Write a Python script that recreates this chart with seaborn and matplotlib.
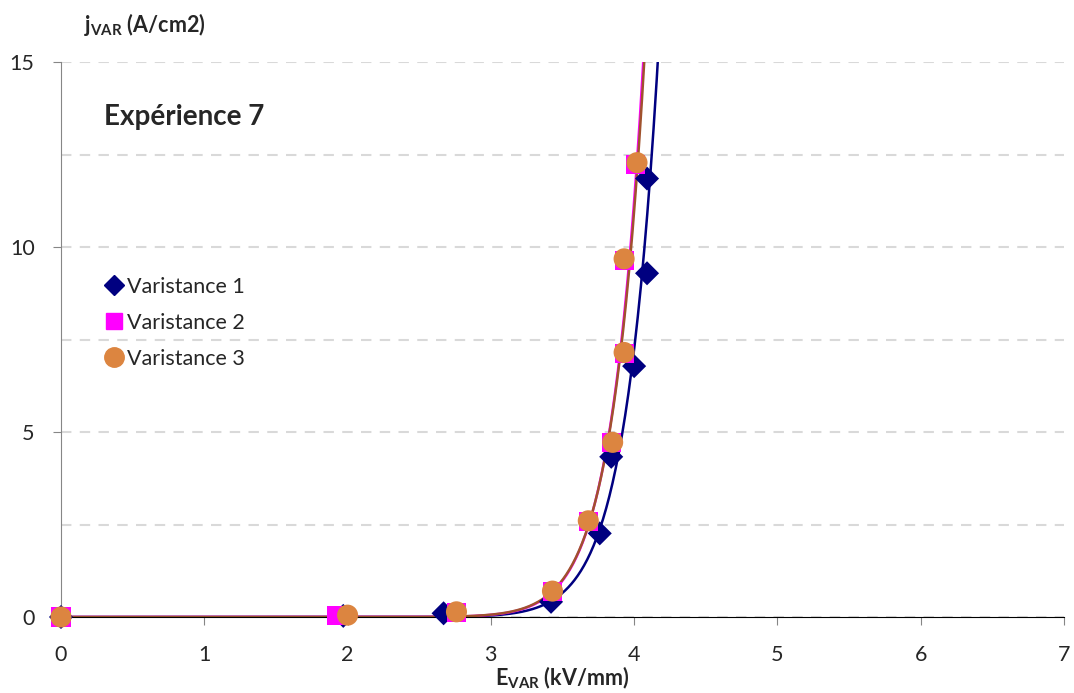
import numpy as np
import pandas as pd
import matplotlib
matplotlib.use('Agg')
import matplotlib.pyplot as plt
import seaborn as sns
from matplotlib.lines import Line2D

# --- Data ---
e_var1 = [0.0, 1.97, 2.67, 3.42, 3.76, 3.84, 4.00, 4.09, 4.09]
j_var1 = [0.0, 0.03, 0.10, 0.41, 2.26, 4.33, 6.78, 9.29, 11.85]

e_var2 = [0.0, 1.92, 2.76, 3.43, 3.68, 3.84, 3.93, 3.93, 4.01]
j_var2 = [0.0, 0.05, 0.13, 0.68, 2.58, 4.71, 7.13, 9.63, 12.24]

e_var3 = [0.0, 2.00, 2.76, 3.43, 3.68, 3.85, 3.93, 3.93, 4.02]
j_var3 = [0.0, 0.05, 0.14, 0.70, 2.60, 4.72, 7.15, 9.68, 12.28]

labels = ['Varistance 1', 'Varistance 2', 'Varistance 3']
marker_colors = ['#000080', '#FF00FF', '#DC8540']
line_colors = ['#000080', '#FF00FF', '#A0522D']
markers = ['D', 's', 'o']
sizes = [150, 190, 230]

sns.set_style('white')
plt.rcParams['font.family'] = ['Lato', 'DejaVu Sans']
plt.rcParams['mathtext.fontset'] = 'custom'
plt.rcParams['mathtext.rm'] = 'Lato'
plt.rcParams['mathtext.bf'] = 'Lato:bold'

fig = plt.figure(figsize=(10.74, 6.93), dpi=100)
ax = fig.add_axes([61 / 1074, 1 - 617 / 693, 1003 / 1074, 555 / 693])

series = [(e_var1, j_var1), (e_var2, j_var2), (e_var3, j_var3)]

# power-law trend curves, fitted on the conducting part of each series
e_grid = np.linspace(0, 4.4, 600)
for (e, j), col in zip(series, line_colors):
    e = np.array(e)
    j = np.array(j)
    keep = j > 0.3
    n, log_a = np.polyfit(np.log(e[keep]), np.log(j[keep]), 1)
    fit = pd.DataFrame({'E': e_grid, 'j': np.exp(log_a) * e_grid ** n})
    sns.lineplot(data=fit, x='E', y='j', color=col, lw=1.8, ax=ax, zorder=2)

for (e, j), col, m, s, lab in zip(series, marker_colors, markers, sizes, labels):
    df = pd.DataFrame({'E': e, 'j': j})
    sns.scatterplot(data=df, x='E', y='j', marker=m, s=s, color=col,
                    edgecolor='none', ax=ax, zorder=3, clip_on=False)

ax.set_xlim(0, 7)
ax.set_ylim(0, 15)
ax.set_xticks(range(0, 8))
ax.set_yticks([0, 5, 10, 15])
ax.set_yticks([2.5, 7.5, 12.5], minor=True)
ax.yaxis.grid(True, which='both', color='#D9D9D9', linestyle=(0, (5, 4)), lw=1.5)
ax.set_axisbelow(True)

for side in ['top', 'right']:
    ax.spines[side].set_visible(False)
ax.spines['left'].set_color('#868686')
ax.spines['bottom'].set_color('black')
ax.tick_params(axis='x', which='major', direction='out', length=6, color='#868686',
               labelsize=15.5, pad=14, bottom=True)
ax.tick_params(axis='y', which='major', direction='out', length=6, color='#868686',
               labelsize=15.5, pad=13, left=True)
ax.tick_params(axis='y', which='minor', length=0)

ax.set_xlabel(r'$\mathbf{E}_{\mathbf{VAR}}$ (kV/mm)', fontsize=15.5, fontweight='bold', labelpad=0)
ax.set_ylabel('')
fig.text(84 / 1074, 1 - 25 / 693, r'$\mathbf{j}_{\mathbf{VAR}}$ (A/cm2)', fontsize=15.5,
         fontweight='bold', va='center', ha='left')
ax.text(0.30, 13.5, 'Expérience 7', fontsize=20, fontweight='bold', va='center')

handles = [Line2D([], [], marker=m, color=c, linestyle='none', markersize=ms)
           for m, c, ms in zip(markers, marker_colors, [10, 12, 14])]
ax.legend(handles, labels, loc='upper left', bbox_to_anchor=(0.021, 0.648), frameon=False,
          fontsize=15.5, handletextpad=0.0, labelspacing=0.75, handlelength=1.2)

fig.savefig('out.png', dpi=100)
